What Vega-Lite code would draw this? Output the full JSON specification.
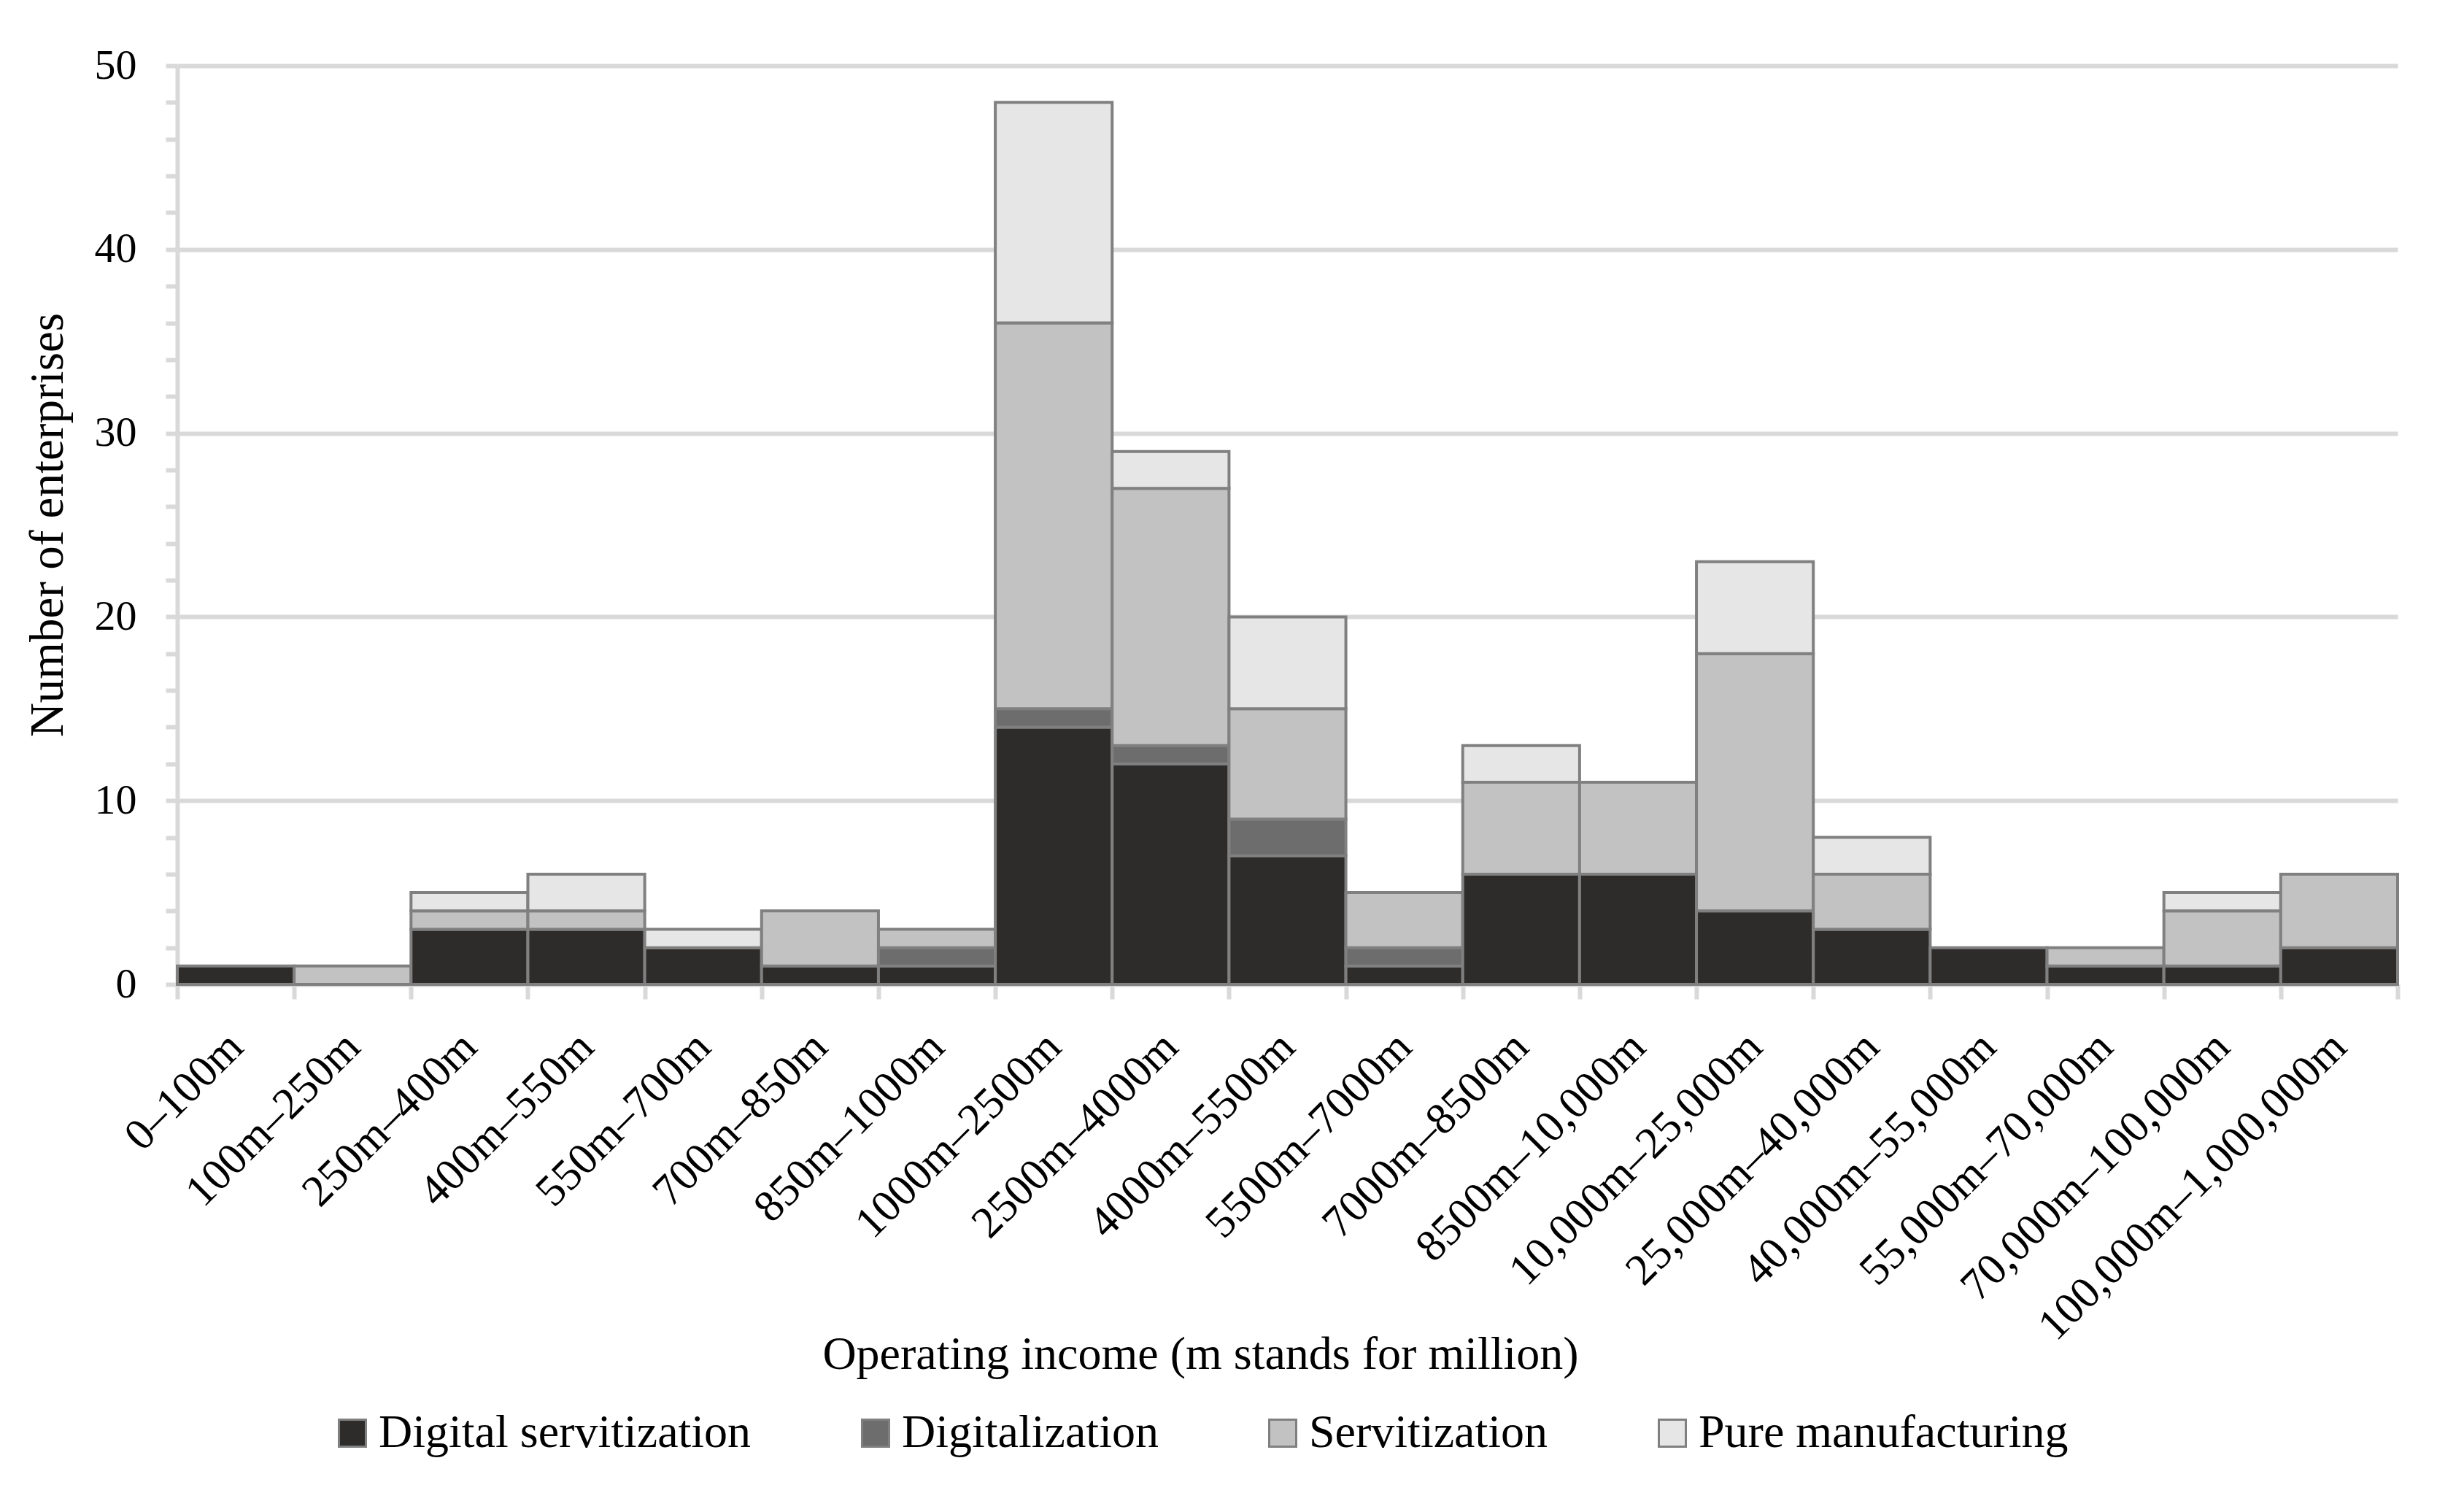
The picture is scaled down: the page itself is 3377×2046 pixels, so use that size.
{
  "$schema": "https://vega.github.io/schema/vega-lite/v6.json",
  "autosize": "none",
  "width": 3043,
  "height": 1259,
  "padding": {"left": 243, "top": 90, "right": 91, "bottom": 697},
  "background": "white",
  "data": {
    "values": [
      {"income": "0–100m", "type": "Digital servitization", "rank": 1, "count": 1},
      {"income": "100m–250m", "type": "Servitization", "rank": 3, "count": 1},
      {"income": "250m–400m", "type": "Digital servitization", "rank": 1, "count": 3},
      {"income": "250m–400m", "type": "Servitization", "rank": 3, "count": 1},
      {"income": "250m–400m", "type": "Pure manufacturing", "rank": 4, "count": 1},
      {"income": "400m–550m", "type": "Digital servitization", "rank": 1, "count": 3},
      {"income": "400m–550m", "type": "Servitization", "rank": 3, "count": 1},
      {"income": "400m–550m", "type": "Pure manufacturing", "rank": 4, "count": 2},
      {"income": "550m–700m", "type": "Digital servitization", "rank": 1, "count": 2},
      {"income": "550m–700m", "type": "Pure manufacturing", "rank": 4, "count": 1},
      {"income": "700m–850m", "type": "Digital servitization", "rank": 1, "count": 1},
      {"income": "700m–850m", "type": "Servitization", "rank": 3, "count": 3},
      {"income": "850m–1000m", "type": "Digital servitization", "rank": 1, "count": 1},
      {"income": "850m–1000m", "type": "Digitalization", "rank": 2, "count": 1},
      {"income": "850m–1000m", "type": "Servitization", "rank": 3, "count": 1},
      {"income": "1000m–2500m", "type": "Digital servitization", "rank": 1, "count": 14},
      {"income": "1000m–2500m", "type": "Digitalization", "rank": 2, "count": 1},
      {"income": "1000m–2500m", "type": "Servitization", "rank": 3, "count": 21},
      {"income": "1000m–2500m", "type": "Pure manufacturing", "rank": 4, "count": 12},
      {"income": "2500m–4000m", "type": "Digital servitization", "rank": 1, "count": 12},
      {"income": "2500m–4000m", "type": "Digitalization", "rank": 2, "count": 1},
      {"income": "2500m–4000m", "type": "Servitization", "rank": 3, "count": 14},
      {"income": "2500m–4000m", "type": "Pure manufacturing", "rank": 4, "count": 2},
      {"income": "4000m–5500m", "type": "Digital servitization", "rank": 1, "count": 7},
      {"income": "4000m–5500m", "type": "Digitalization", "rank": 2, "count": 2},
      {"income": "4000m–5500m", "type": "Servitization", "rank": 3, "count": 6},
      {"income": "4000m–5500m", "type": "Pure manufacturing", "rank": 4, "count": 5},
      {"income": "5500m–7000m", "type": "Digital servitization", "rank": 1, "count": 1},
      {"income": "5500m–7000m", "type": "Digitalization", "rank": 2, "count": 1},
      {"income": "5500m–7000m", "type": "Servitization", "rank": 3, "count": 3},
      {"income": "7000m–8500m", "type": "Digital servitization", "rank": 1, "count": 6},
      {"income": "7000m–8500m", "type": "Servitization", "rank": 3, "count": 5},
      {"income": "7000m–8500m", "type": "Pure manufacturing", "rank": 4, "count": 2},
      {"income": "8500m–10,000m", "type": "Digital servitization", "rank": 1, "count": 6},
      {"income": "8500m–10,000m", "type": "Servitization", "rank": 3, "count": 5},
      {"income": "10,000m–25,000m", "type": "Digital servitization", "rank": 1, "count": 4},
      {"income": "10,000m–25,000m", "type": "Servitization", "rank": 3, "count": 14},
      {"income": "10,000m–25,000m", "type": "Pure manufacturing", "rank": 4, "count": 5},
      {"income": "25,000m–40,000m", "type": "Digital servitization", "rank": 1, "count": 3},
      {"income": "25,000m–40,000m", "type": "Servitization", "rank": 3, "count": 3},
      {"income": "25,000m–40,000m", "type": "Pure manufacturing", "rank": 4, "count": 2},
      {"income": "40,000m–55,000m", "type": "Digital servitization", "rank": 1, "count": 2},
      {"income": "55,000m–70,000m", "type": "Digital servitization", "rank": 1, "count": 1},
      {"income": "55,000m–70,000m", "type": "Servitization", "rank": 3, "count": 1},
      {"income": "70,000m–100,000m", "type": "Digital servitization", "rank": 1, "count": 1},
      {"income": "70,000m–100,000m", "type": "Servitization", "rank": 3, "count": 3},
      {"income": "70,000m–100,000m", "type": "Pure manufacturing", "rank": 4, "count": 1},
      {"income": "100,000m–1,000,000m", "type": "Digital servitization", "rank": 1, "count": 2},
      {"income": "100,000m–1,000,000m", "type": "Servitization", "rank": 3, "count": 4}
    ]
  },
  "mark": {"type": "bar", "stroke": "#808080", "strokeWidth": 4},
  "encoding": {
    "x": {
      "field": "income",
      "type": "nominal",
      "sort": ["0–100m", "100m–250m", "250m–400m", "400m–550m", "550m–700m", "700m–850m", "850m–1000m", "1000m–2500m", "2500m–4000m", "4000m–5500m", "5500m–7000m", "7000m–8500m", "8500m–10,000m", "10,000m–25,000m", "25,000m–40,000m", "40,000m–55,000m", "55,000m–70,000m", "70,000m–100,000m", "100,000m–1,000,000m"],
      "scale": {"paddingInner": 0, "paddingOuter": 0},
      "axis": {
        "title": "Operating income (m stands for million)",
        "titleX": 1402,
        "titleY": 507,
        "titleAlign": "center",
        "titleBaseline": "middle",
        "titleFont": "Liberation Serif",
        "titleFontSize": 64,
        "titleFontWeight": "normal",
        "titleColor": "#000000",
        "labelAngle": -45,
        "labelAlign": "right",
        "labelBaseline": "middle",
        "labelPadding": 56,
        "labelFont": "Liberation Serif",
        "labelFontSize": 61,
        "labelColor": "#000000",
        "labelOverlap": false,
        "labelFlush": false,
        "tickBand": "extent",
        "tickSize": 20,
        "tickWidth": 6,
        "tickColor": "#d9d9d9",
        "domainColor": "#d9d9d9",
        "domainWidth": 6,
        "grid": false
      }
    },
    "y": {
      "field": "count",
      "type": "quantitative",
      "stack": "zero",
      "scale": {"domain": [0, 50], "nice": false},
      "axis": {
        "title": "Number of enterprises",
        "titleX": -178,
        "titleY": 629,
        "titleAngle": -90,
        "titleAlign": "center",
        "titleBaseline": "middle",
        "titleFont": "Liberation Serif",
        "titleFontSize": 65,
        "titleFontWeight": "normal",
        "titleColor": "#000000",
        "values": [0, 2, 4, 6, 8, 10, 12, 14, 16, 18, 20, 22, 24, 26, 28, 30, 32, 34, 36, 38, 40, 42, 44, 46, 48, 50],
        "labelExpr": "datum.value % 10 === 0 ? datum.label : ''",
        "labelFont": "Liberation Serif",
        "labelFontSize": 58,
        "labelColor": "#000000",
        "labelPadding": 40,
        "grid": true,
        "gridColor": "#d9d9d9",
        "gridWidth": 6,
        "gridOpacity": {"condition": {"test": "datum.value % 10 === 0", "value": 1}, "value": 0},
        "tickSize": 16,
        "tickWidth": 6,
        "tickColor": "#d9d9d9",
        "domainColor": "#d9d9d9",
        "domainWidth": 6
      }
    },
    "color": {
      "field": "type",
      "type": "nominal",
      "scale": {
        "domain": ["Digital servitization", "Digitalization", "Servitization", "Pure manufacturing"],
        "range": ["#2e2b2b", "#6d6d6d", "#c2c2c2", "#e6e6e6"]
      },
      "legend": {
        "title": null,
        "orient": "none",
        "direction": "horizontal",
        "legendX": 208,
        "legendY": 1842,
        "columnPadding": 138,
        "labelFont": "Liberation Serif",
        "labelFontSize": 64,
        "labelColor": "#000000",
        "labelLimit": 0,
        "labelOffset": 4,
        "symbolType": "square",
        "symbolSize": 1369,
        "symbolStrokeColor": "#808080",
        "symbolStrokeWidth": 3,
        "symbolOpacity": 1,
        "padding": 0
      }
    },
    "order": {"field": "rank", "type": "quantitative", "sort": "ascending"}
  },
  "config": {
    "view": {"stroke": null},
    "axis": {"labelLimit": 0},
    "legend": {"labelLimit": 0}
  }
}
